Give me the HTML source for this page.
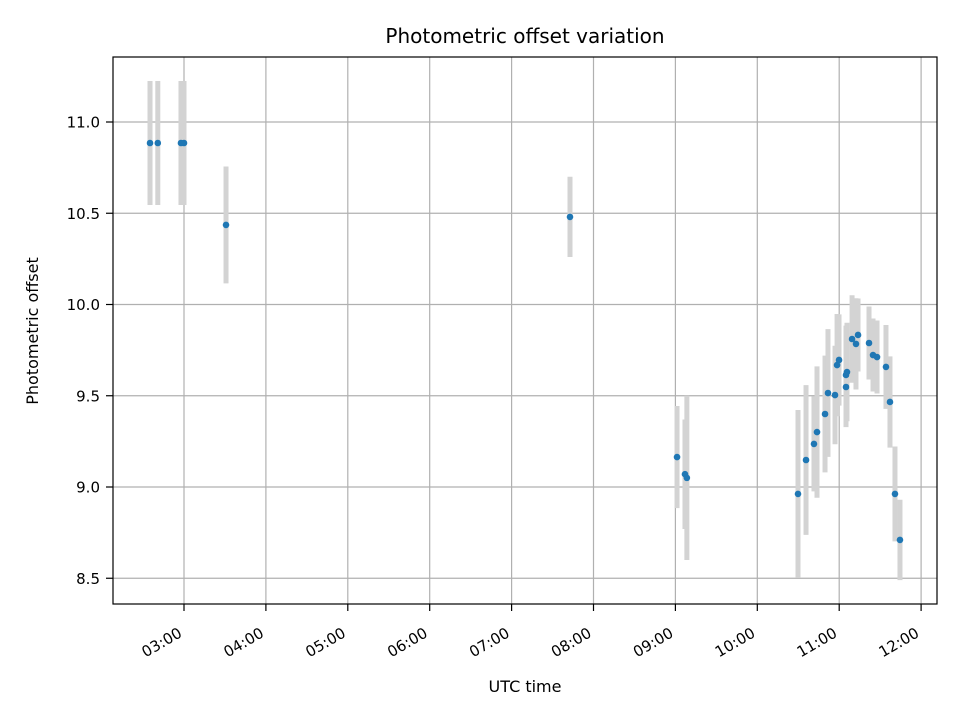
<!DOCTYPE html>
<html><head><meta charset="utf-8"><style>
body{margin:0;background:#fff}
svg text{font-family:"DejaVu Sans","Liberation Sans",sans-serif;fill:#000}
</style></head><body>
<svg id="chart" width="960" height="720" xmlns="http://www.w3.org/2000/svg">
<rect width="960" height="720" fill="#fff"/>
<g id="grid"></g>
<g id="errs"></g>
<g id="pts"></g>
<rect x="113" y="57" width="824" height="547" fill="none" stroke="#000" stroke-width="1.2"/>
<g id="ticks"></g>
<text x="525" y="43" font-size="20" text-anchor="middle">Photometric offset variation</text>
<text x="525" y="692" font-size="16" text-anchor="middle">UTC time</text>
<text transform="translate(38,331) rotate(-90)" font-size="16" text-anchor="middle">Photometric offset</text>
</svg>
<script>
const times=[2.585,2.68,2.963,3.0,3.513,7.713,9.02,9.117,9.14,10.497,10.595,10.692,10.729,10.827,10.863,10.949,10.974,10.998,11.083,11.095,11.083,11.157,11.205,11.23,11.364,11.413,11.462,11.571,11.62,11.681,11.742];
const values=[10.885,10.885,10.885,10.885,10.436,10.48,9.164,9.07,9.05,8.962,9.148,9.236,9.301,9.40,9.515,9.504,9.668,9.696,9.614,9.63,9.548,9.811,9.784,9.833,9.789,9.723,9.712,9.658,9.466,8.962,8.71];
const errors=[0.34,0.34,0.34,0.34,0.32,0.22,0.28,0.3,0.45,0.46,0.41,0.26,0.36,0.32,0.35,0.27,0.28,0.25,0.27,0.27,0.22,0.24,0.25,0.2,0.2,0.2,0.2,0.23,0.25,0.26,0.22];
const xTicks=[3,4,5,6,7,8,9,10,11,12];
const xTickLabels=["03:00","04:00","05:00","06:00","07:00","08:00","09:00","10:00","11:00","12:00"];
const yTicks=[8.5,9.0,9.5,10.0,10.5,11.0];
const yTickLabels=["8.5","9.0","9.5","10.0","10.5","11.0"];
const NS="http://www.w3.org/2000/svg";
const X=t=>184+(t-3)*81.9;
const Y=v=>122+(11-v)*182.5;
function mk(tag,attrs,parent){const e=document.createElementNS(NS,tag);for(const k in attrs)e.setAttribute(k,attrs[k]);document.getElementById(parent).appendChild(e);return e;}
xTicks.forEach((t,i)=>{const x=X(t);
 const g=mk('line',{x1:x,x2:x,y1:57,y2:604,stroke:'#b0b0b0','stroke-width':1.2},'grid');
 
 
 const tk=mk('line',{x1:x,x2:x,y1:604,y2:611,stroke:'#000','stroke-width':1.2},'ticks');
 
 
 const tx=mk('text',{transform:`translate(${x-1},${636}) rotate(-30)`,'font-size':15,'text-anchor':'end'},'ticks');
 tx.textContent=xTickLabels[i];
 
 
});
yTicks.forEach((v,i)=>{const y=Y(v);
 const g=mk('line',{x1:113,x2:937,y1:y,y2:y,stroke:'#b0b0b0','stroke-width':1.2},'grid');
 
 
 const tk=mk('line',{x1:106,x2:113,y1:y,y2:y,stroke:'#000','stroke-width':1.2},'ticks');
 
 
 const tx=mk('text',{x:100,y:y+5.5,'font-size':15,'text-anchor':'end'},'ticks');
 tx.textContent=yTickLabels[i];
 
 
});
times.forEach((t,i)=>{const x=X(t);
 const e=mk('line',{x1:x,x2:x,y1:Y(values[i]+errors[i]),y2:Y(values[i]-errors[i]),stroke:'#d3d3d3','stroke-width':5},'errs');
 
 
});
times.forEach((t,i)=>{
 const c=mk('circle',{cx:X(t),cy:Y(values[i]),r:3.3,fill:'#1f77b4'},'pts');
 
 
});
</script>
</body></html>
